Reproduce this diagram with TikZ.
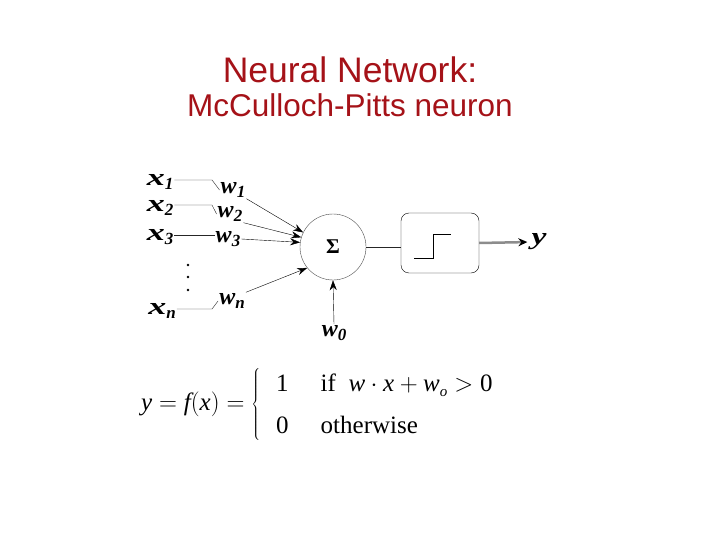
\documentclass[tikz,border=0pt]{standalone}
\usepackage{graphicx}
\usepackage{fontspec}
\setmainfont{Liberation Sans}
\newfontfamily\timesf{Liberation Serif}
\usetikzlibrary{shapes.geometric, arrows, arrows.meta, positioning}
\definecolor{titlered}{RGB}{165,18,24}
\newcommand{\lab}[3][1]{{\timesf\bfseries\itshape\scalebox{#1}[1]{#2}\raisebox{-4pt}{\fontsize{17}{18}\selectfont #3}}}
\newcommand{\tv}[1]{\mbox{\timesf\itshape #1}}
\tikzstyle{headline} = [
    text=titlered,
    font=\fontsize{35.5}{40}\selectfont
]
\tikzstyle{subline} = [
    text=titlered,
    font=\fontsize{31.5}{38}\selectfont
]
\tikzstyle{lbl} = [
    font=\fontsize{24}{26}\selectfont,
    inner sep=1pt
]
\tikzstyle{neuron} = [
    circle,
    minimum size=66pt,
    inner sep=0pt,
    draw=black!70
]
\tikzstyle{stepbox} = [
    rectangle,
    rounded corners=8pt,
    minimum width=78pt,
    minimum height=60pt,
    draw=black
]
\tikzstyle{wire} = [black!85]
\tikzstyle{arrow} = [->,>={Stealth[length=10pt,width=7pt]}]
\tikzstyle{outarrow} = [line width=2.5pt, draw=black!45, shorten >=3pt, -{Stealth[black, length=9pt, width=8pt]}]

\begin{document}
\begin{tikzpicture}[x=1pt, y=-1pt, node distance=1.3cm]
\useasboundingbox (0,0) rectangle (720,540);

\node (title1) [headline] at (350,70) {Neural Network:};
\node (title2) [subline] at (350,105) {McCulloch-Pitts neuron};

\node (x1) [lbl] at (160,182) {\lab[1.5]{x}{1}};
\node (x2) [lbl] at (160,208) {\lab[1.5]{x}{2}};
\node (x3) [lbl] at (160,237) {\lab[1.5]{x}{3}};
\node (xn) [lbl] at (162,311) {\lab[1.5]{x}{n}};

\node (w1) [lbl] at (233,190) {\lab{w}{1}};
\node (w2) [lbl] at (230,214) {\lab{w}{2}};
\node (w3) [lbl] at (228,239) {\lab{w}{3}};
\node (wn) [lbl] at (232,301) {\lab{w}{n}};

\foreach \y in {265,277,290}
    \fill (188,\y) circle (1.3pt);

\node (sum) [neuron] at (333,247) {\timesf\bfseries\fontsize{21}{24}\selectfont Σ};
\node (w0) [lbl] at (334,333) {\lab{w}{0}};
\node (step) [stepbox] at (440,243) {};
\node (y) [lbl] at (539,242) {\lab[1.4]{y}{}};

\coordinate (k1) at (212,180);
\coordinate (k2) at (212,205);
\coordinate (k3) at (212,235);
\coordinate (kn) at (212,309);

\draw [wire] (x1.east |- k1) -- (k1) -- (w1.west);
\draw [wire] (x2.east |- k2) -- (k2) -- (w2.west);
\draw [wire] (x3.east |- k3) -- (w3.west |- k3);
\draw [wire] (xn.east |- kn) -- (kn) -- (wn.west);

\draw [arrow] (w1.south east) -- (sum.154);
\draw [arrow] (w2.south east) -- (sum.163);
\draw [arrow] (w3.east) -- (sum.172);
\draw [arrow] (wn.north east) -- (sum.219);
\draw [arrow] (w0.north) -- (sum.south);

\draw [wire] (sum.east) -- (step.west |- sum.east);
\draw ([shift={(-26,15)}]step.center) -- ++(19,0) -- ++(0,-24) -- ++(18,0);
\draw [outarrow] (step.east) -- (y.west);

\node (rule) at (320,404) {\fontsize{25}{30}\selectfont
    $\tv{y}=\tv{f}(\tv{x})=\left\{\begin{array}{@{\hspace{16pt}}r@{\hspace{32pt}}l}
    \rule{0pt}{26pt}\mbox{\timesf 1} & \mbox{\timesf if\ \ }\tv{w}\cdot\tv{x}+\tv{w}\raisebox{-5pt}{\fontsize{15}{16}\selectfont\timesf\itshape o}>\mbox{\timesf 0}\\[12pt]
    \mbox{\timesf 0} & \mbox{\timesf otherwise}\rule[-8pt]{0pt}{8pt}
    \end{array}\right.$};

\end{tikzpicture}
\end{document}
